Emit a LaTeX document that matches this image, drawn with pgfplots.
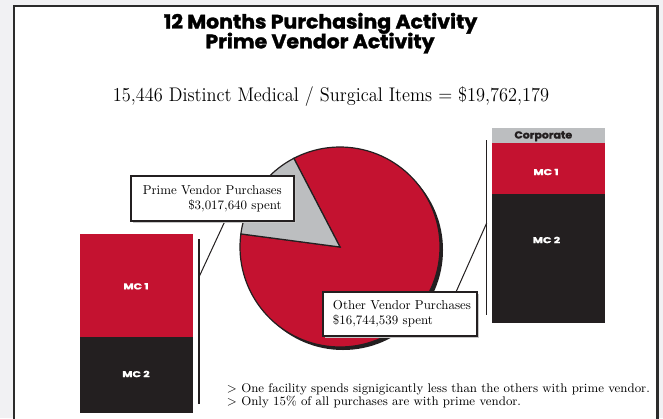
\documentclass[border=0pt]{standalone}
\usepackage{pgfplots}
\pgfplotsset{compat=1.18}
\usepackage{fontspec}
\usepackage{graphicx}
\newfontfamily\heavy{Poppins}[BoldFeatures={FakeBold=1.6}]
\definecolor{mcred}{HTML}{C41230}
\definecolor{mcblack}{HTML}{231F20}
\definecolor{mcgray}{HTML}{BCBEC0}
\definecolor{bggray}{HTML}{F1F1F3}
\definecolor{framec}{HTML}{2B2B2B}
% pie values (millions of $)
\def\pvval{3.017640}
\def\ovval{16.744539}
\begin{document}
\begin{tikzpicture}[x=0.75pt,y=-0.75pt]
\useasboundingbox (0,0) rectangle (663,418);
\fill[bggray] (0,0) rectangle (663,418);
\fill[white] (14,6) rectangle (657.5,425);
\draw[framec, line width=2.2pt] (14,425) -- (14,6) -- (657.5,6) -- (657.5,425);

% titles
\node[anchor=base, inner sep=0] at (320.5,28.5) {\heavy\bfseries\fontsize{14.6}{16}\selectfont\scalebox{1.05}[1]{12 Months Purchasing Activity}};
\node[anchor=base, inner sep=0] at (320,48.3) {\heavy\bfseries\fontsize{14.6}{16}\selectfont\scalebox{1.05}[1]{Prime Vendor Activity}};
\node[anchor=base, inner sep=0] at (331,101.5) {\fontsize{14.8}{16}\selectfont\scalebox{0.93}[1]{15,446 Distinct Medical / Surgical Items = \$19,762,179}};

% pie
\pgfmathsetmacro{\pvfrac}{\pvval/(\pvval+\ovval)}
\pgfmathsetmacro{\sa}{117.5}
\pgfmathsetmacro{\ea}{\sa+360*\pvfrac}
\pgfmathsetmacro{\fa}{\sa+360}
\begin{axis}[at={(255pt,-185.25pt)}, anchor=center, width=150pt, height=150pt, scale only axis, hide axis,
  xmin=-1, xmax=1, ymin=-1, ymax=1, clip=false]
\fill[mcblack] (axis cs:0.03,-0.03) circle[radius=75pt];
\filldraw[fill=mcred, draw=mcblack, line width=0.9pt] (axis cs:0,0) -- (axis cs:{cos(\ea)},{sin(\ea)}) arc[start angle=\ea, end angle=\fa, radius=75pt] -- cycle;
\filldraw[fill=mcgray, draw=mcblack, line width=0.9pt] (axis cs:0,0) -- (axis cs:{cos(\sa)},{sin(\sa)}) arc[start angle=\sa, end angle=\ea, radius=75pt] -- cycle;
\end{axis}

% left stacked bar
\begin{axis}[at={(60pt,-309.75pt)}, anchor=south west, width=84.75pt, height=134.25pt, scale only axis, hide axis,
  ybar stacked, bar width=84.75pt, xmin=-0.5, xmax=0.5, ymin=0, ymax=100, clip=false]
\addplot[fill=mcblack, draw=none] coordinates {(0,42.5)};
\addplot[fill=mcred, draw=none] coordinates {(0,57.5)};
\end{axis}

% right stacked bar
\begin{axis}[at={(368.775pt,-242.025pt)}, anchor=south west, width=85pt, height=146.25pt, scale only axis, hide axis,
  ybar stacked, bar width=85pt, xmin=-0.5, xmax=0.5, ymin=0, ymax=100, clip=false]
\addplot[fill=mcblack, draw=none] coordinates {(0,66.1)};
\addplot[fill=mcred, draw=none] coordinates {(0,26.2)};
\addplot[fill=mcgray, draw=none] coordinates {(0,7.7)};
\end{axis}

% bar labels
\node[text=white, inner sep=0] at (136,286.3) {\heavy\bfseries\fontsize{6.4}{7}\selectfont\scalebox{1.3}[1]{MC 1}};
\node[text=white, inner sep=0] at (136,374) {\heavy\bfseries\fontsize{6.4}{7}\selectfont\scalebox{1.3}[1]{MC 2}};
\node[text=white, inner sep=0] at (546,172) {\heavy\bfseries\fontsize{6.4}{7}\selectfont\scalebox{1.3}[1]{MC 1}};
\node[text=white, inner sep=0] at (546.5,240) {\heavy\bfseries\fontsize{6.4}{7}\selectfont\scalebox{1.3}[1]{MC 2}};
\node[text=mcblack, inner sep=0, anchor=base] at (543.3,138.5) {\heavy\bfseries\fontsize{7.6}{8}\selectfont\scalebox{1.08}[1]{Corporate}};

% connector lines
\draw[mcblack, line width=0.9pt] (199,239) -- (199,404);
\draw[mcblack, line width=0.75pt] (199,277) -- (225,221);
\draw[mcblack, line width=0.9pt] (486.7,140) -- (486.7,315);
\draw[mcblack, line width=0.75pt] (486.7,223) -- (456,292);

% callout boxes
\fill[gray!45] (132.5,177.5) rectangle (295.5,222.5);
\filldraw[fill=white, draw=mcblack, line width=0.8pt] (131,176) rectangle (294,221);
\node[anchor=east, align=right, inner sep=0, font=\fontsize{9.7}{11.5}\selectfont] at (282,198.5) {Prime Vendor Purchases\\\$3,017,640 spent};
\fill[gray!45] (324.5,293.5) rectangle (478.5,337.5);
\filldraw[fill=white, draw=mcblack, line width=0.8pt] (323,292) rectangle (477,336);
\node[anchor=west, align=left, inner sep=0, font=\fontsize{9.7}{11.5}\selectfont] at (332.7,313.5) {Other Vendor Purchases\\\$16,744,539 spent};

% footer
\node[anchor=base west, inner sep=0, font=\fontsize{9.4}{11}\selectfont] at (226.7,392.3) {> One facility spends signigicantly less than the others with prime vendor.};
\node[anchor=base west, inner sep=0, font=\fontsize{9.4}{11}\selectfont] at (226.7,405.3) {> Only 15\% of all purchases are with prime vendor.};
\end{tikzpicture}
\end{document}
